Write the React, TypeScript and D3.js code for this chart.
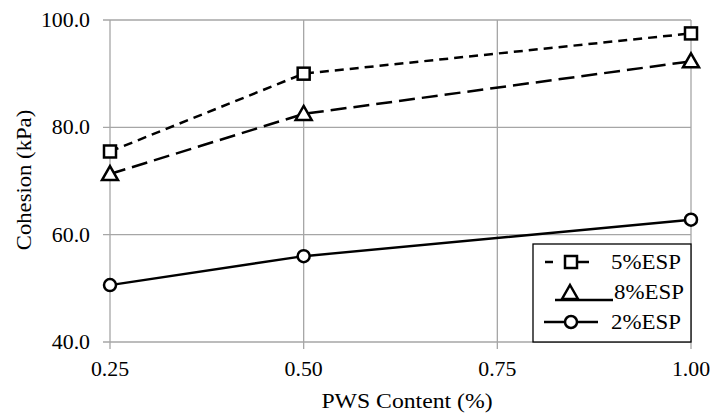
import React from "react";
import * as d3 from "d3";

const xValues = [0.25, 0.5, 1.0];
const series5 = [75.5, 90.0, 97.5];
const series8 = [71.3, 82.5, 92.3];
const series2 = [50.6, 56.0, 62.8];
const xTicks = [0.25, 0.5, 0.75, 1.0];
const yTicks = [40, 60, 80, 100];
const legendLabels = ["5%ESP", "8%ESP", "2%ESP"];

const W = 712;
const H = 417;
const L = 110, R = 691, T = 20, B = 342;
const tstyle: React.CSSProperties = { fontFamily: "Liberation Serif, 'Times New Roman', serif", fontSize: "21px" };

function Txt(props: { x: number; y: number; anchor?: string; sx?: number; rot?: number; children: React.ReactNode }) {
  const { x, y, anchor = "start", sx = 1.13, rot = 0 } = props;
  return (
    <g transform={`translate(${x},${y}) rotate(${rot}) scale(${sx},1)`}>
      <text x={0} y={0} textAnchor={anchor as any} style={tstyle} fill="#000">
        {props.children}
      </text>
    </g>
  );
}

export default function App() {
  const x = d3.scaleLinear().domain([0.25, 1.0]).range([L, R]);
  const y = d3.scaleLinear().domain([40, 100]).range([B, T]);
  const line = d3
    .line<number>()
    .x((_, i) => x(xValues[i]))
    .y((d) => y(d));

  const sq = (cx: number, cy: number, k: string) => (
    <rect key={k} x={cx - 6} y={cy - 6} width={12} height={12} fill="#fff" stroke="#000" strokeWidth={2.5} />
  );
  const tri = (cx: number, cy: number, k: string) => {
    const p = `${cx},${cy - 8} ${cx + 8},${cy + 6} ${cx - 8},${cy + 6}`;
    return <polygon key={k} points={p} fill="#fff" stroke="#000" strokeWidth={2.5} strokeLinejoin="miter" />;
  };
  const circ = (cx: number, cy: number, k: string) => (
    <circle key={k} cx={cx} cy={cy} r={6} fill="#fff" stroke="#000" strokeWidth={2.5} />
  );

  return (
    <svg width={W} height={H} style={{ position: "absolute", left: 0, top: 0, background: "#fff" }}>
      <rect x={0} y={0} width={W} height={H} fill="#fff" />
      {/* grid */}
      {yTicks.map((t) => (
        <line key={"gy" + t} x1={L - 7} x2={R} y1={y(t)} y2={y(t)} stroke="#a6a6a6" strokeWidth={1.3} />
      ))}
      {xTicks.map((t) => (
        <line key={"gx" + t} x1={x(t)} x2={x(t)} y1={T} y2={B + 7} stroke="#a6a6a6" strokeWidth={1.3} />
      ))}
      {/* tick labels */}
      {yTicks.map((t) => (
        <Txt key={"ty" + t} x={90} y={y(t) + 7} anchor="end" sx={1.04}>
          {t.toFixed(1)}
        </Txt>
      ))}
      {xTicks.map((t) => (
        <Txt key={"tx" + t} x={x(t)} y={376} anchor="middle" sx={1.04}>
          {t.toFixed(2)}
        </Txt>
      ))}
      <Txt x={407} y={408} anchor="middle">
        PWS Content (%)
      </Txt>
      <Txt x={31} y={180} anchor="middle" rot={-90} sx={1.08}>
        Cohesion (kPa)
      </Txt>
      {/* lines */}
      <path d={line(series2) || ""} fill="none" stroke="#000" strokeWidth={2.5} />
      <path d={line(series8) || ""} fill="none" stroke="#000" strokeWidth={2.5} strokeDasharray="16,7" />
      <path d={line(series5) || ""} fill="none" stroke="#000" strokeWidth={2.5} strokeDasharray="9,6" />
      {series2.map((v, i) => circ(x(xValues[i]), y(v), "c" + i))}
      {series8.map((v, i) => tri(x(xValues[i]), y(v), "t" + i))}
      {series5.map((v, i) => sq(x(xValues[i]), y(v), "s" + i))}
      {/* legend */}
      <rect x={533} y={244} width={158} height={98} fill="#fff" stroke="#000" strokeWidth={1.3} />
      <line x1={545} x2={589} y1={262} y2={262} stroke="#000" strokeWidth={2.5} strokeDasharray="8,13,23" />
      {sq(571, 262, "ls")}
      <line x1={555} x2={613} y1={300} y2={300} stroke="#000" strokeWidth={2.5} />
      {tri(570, 293, "lt")}
      <line x1={544} x2={598} y1={322} y2={322} stroke="#000" strokeWidth={2.5} />
      {circ(571, 322, "lc")}
      <Txt x={611} y={269} sx={1.09}>{legendLabels[0]}</Txt>
      <Txt x={614} y={299} sx={1.09}>{legendLabels[1]}</Txt>
      <Txt x={611} y={329} sx={1.09}>{legendLabels[2]}</Txt>
    </svg>
  );
}
